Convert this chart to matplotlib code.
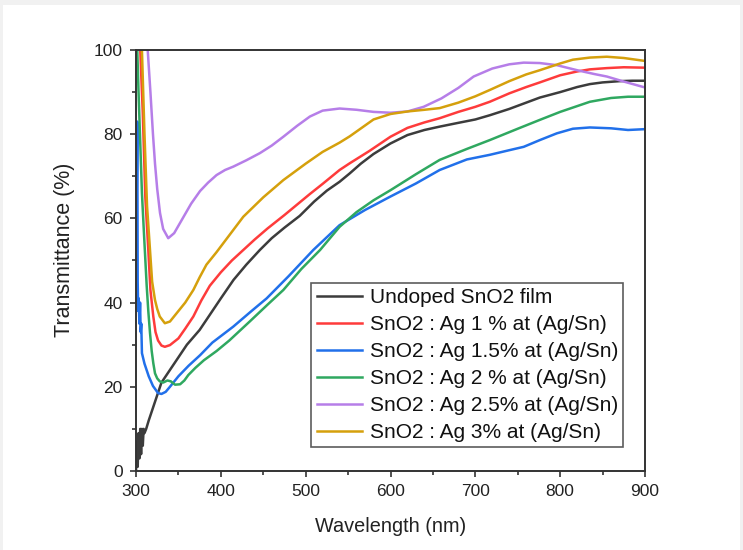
import matplotlib
matplotlib.use("Agg")
import matplotlib.pyplot as plt
from matplotlib.patches import Rectangle
from matplotlib.ticker import MultipleLocator

plt.rcParams['font.family'] = ['Liberation Sans', 'DejaVu Sans']

'''DATA (read off the picture)'''
labels = ["Undoped SnO2 film",
          "SnO2 : Ag 1 % at (Ag/Sn)",
          "SnO2 : Ag 1.5% at (Ag/Sn)",
          "SnO2 : Ag 2 % at (Ag/Sn)",
          "SnO2 : Ag 2.5% at (Ag/Sn)",
          "SnO2 : Ag 3% at (Ag/Sn)"]
colors = ["#3c3c3c", "#fe3b3b", "#2170ea", "#2fa860", "#b67ee8", "#d5a00c"]

wl_undoped = [300, 301, 302, 303, 304, 305, 306, 307, 308, 309, 310, 312, 315, 320, 325, 330,
              340, 350, 360, 375, 390, 400, 415, 430, 446, 460, 475, 493, 510, 525, 540, 552,
              565, 580, 600, 620, 640, 658, 680, 700, 717, 740, 760, 776, 800, 820, 835, 850,
              870, 885, 900]
t_undoped = [0, 7, 1, 9, 3, 10, 4, 10, 6, 10, 9, 10, 12, 15, 18, 21,
             24, 27, 30, 33.5, 38, 41, 45.4, 49, 52.5, 55.3, 57.8, 60.6, 64, 66.6, 68.7, 70.7,
             73, 75.3, 77.8, 79.8, 81, 81.8, 82.7, 83.5, 84.5, 86, 87.5, 88.7, 90, 91.2, 91.9, 92.3,
             92.6, 92.7, 92.7]

wl_ag1 = [305, 308, 311, 314.5, 317, 320.4, 323, 326, 330, 334, 340, 350, 358, 367.6, 377, 387,
          400, 413, 426.5, 440, 455, 475, 490, 505, 520, 540, 552, 575, 600, 620, 640, 658,
          680, 700, 717, 740, 760, 776, 800, 820, 835, 855, 875, 900]
t_ag1 = [100, 85, 65, 52.5, 43, 36.7, 33, 31, 29.8, 29.5, 29.9, 31.5, 33.8, 36.7, 40.5, 44,
         47.2, 50, 52.5, 55, 57.6, 60.8, 63.3, 65.8, 68.2, 71.5, 73.1, 76, 79.4, 81.5, 82.8, 83.8,
         85.3, 86.5, 87.7, 89.7, 91.2, 92.3, 94, 94.9, 95.4, 95.7, 95.9, 95.8]

wl_ag15 = [300, 301, 301.5, 302, 302.6, 303.2, 304, 304.8, 305.5, 306.2, 307, 310, 315, 320,
           326, 330, 335, 340, 350, 362, 375.5, 390, 414.7, 435, 454, 480, 509, 540, 570, 600,
           630, 658, 690, 717, 740, 757, 776, 796, 815, 835, 860, 880, 900]
t_ag15 = [40, 70, 83, 45, 38, 41, 35, 40, 33, 35, 28, 25.5, 22.5, 20.2,
          18.5, 18.3, 18.8, 20, 22.5, 25, 27.5, 30.5, 34.3, 37.8, 41, 46.3, 52.5, 58.4, 62, 65.2,
          68.3, 71.5, 74, 75.1, 76.2, 77, 78.6, 80.2, 81.3, 81.6, 81.4, 81, 81.2]

wl_ag2 = [301.5, 303, 305, 307, 309.5, 312.6, 314.5, 316.5, 318.5, 320.4, 322.4, 325, 328, 332,
          337, 341, 346, 352, 357, 361.7, 370, 380, 395, 410, 434, 455, 473.7, 495, 517, 540,
          560, 580, 600, 630, 658, 690, 717, 750, 776, 800, 835, 860, 880, 900]
t_ag2 = [100, 90, 78, 66, 56, 44, 38, 32.8, 28.5, 25.6, 23.2, 22, 21.3, 21,
         21.5, 21.3, 20.5, 20.6, 21.5, 22.8, 24.5, 26.3, 28.5, 31, 35.5, 39.5, 43, 48, 52.5, 58,
         61.5, 64.3, 66.7, 70.5, 73.9, 76.5, 78.6, 81.3, 83.4, 85.3, 87.7, 88.6, 88.9, 88.9]

wl_ag25 = [313.8, 317, 320, 322.4, 325, 328.3, 332, 338, 345, 355, 365, 375.5, 385, 395, 405,
           414.7, 430, 446, 460, 473.7, 490, 505, 520, 540, 560, 580, 600, 620, 639, 660, 680,
           698, 720, 740, 757, 776, 796, 820, 840, 855, 875, 900]
t_ag25 = [100, 90, 80, 73, 67, 61.3, 57.5, 55.3, 56.5, 60, 63.5, 66.5, 68.5, 70.3, 71.5,
          72.3, 73.8, 75.5, 77.3, 79.4, 82, 84.2, 85.6, 86.1, 85.8, 85.3, 85.1, 85.4, 86.5, 88.5, 91,
          93.7, 95.6, 96.6, 97, 96.9, 96.4, 95.2, 94.3, 93.7, 92.5, 91.1]

wl_ag3 = [307, 310, 313, 316.5, 319, 322.4, 325, 328, 334, 340, 348, 358, 367.6, 375, 383, 395,
          410, 426.5, 450, 473.7, 500, 520, 540, 552, 580, 600, 620, 640, 658, 680, 700, 717,
          740, 760, 776, 800, 815, 835, 855, 875, 900]
t_ag3 = [100, 80, 63, 52.5, 45, 40.6, 38.5, 36.7, 35.1, 35.5, 37.5, 40, 43, 46, 49, 52,
         56, 60.4, 65, 69.1, 73, 75.8, 78, 79.5, 83.5, 84.8, 85.4, 85.8, 86.2, 87.5, 89, 90.5,
         92.6, 94.2, 95.2, 96.8, 97.7, 98.2, 98.4, 98.1, 97.4]

series = [(wl_undoped, t_undoped), (wl_ag1, t_ag1), (wl_ag15, t_ag15),
          (wl_ag2, t_ag2), (wl_ag25, t_ag25), (wl_ag3, t_ag3)]

'''PLOT'''
fig = plt.figure(figsize=(7.43, 5.5), dpi=100, facecolor='#f1f1f1')
fig.patches.append(Rectangle((3/743, 0), 737/743, 545/550, transform=fig.transFigure,
                             facecolor='white', edgecolor='none', zorder=-10))

ax = fig.add_axes([136/743, 79/550, 509/743, 421/550])
ax.set_facecolor('white')

for (wl, t), c, lab in zip(series, colors, labels):
    ax.plot(wl, t, color=c, lw=1.8, label=lab, solid_joinstyle='round')

ax.set_xlim(300, 900)
ax.set_ylim(0, 100)
ax.xaxis.set_major_locator(MultipleLocator(100))
ax.xaxis.set_minor_locator(MultipleLocator(50))
ax.yaxis.set_major_locator(MultipleLocator(20))
ax.yaxis.set_minor_locator(MultipleLocator(10))

for s in ax.spines.values():
    s.set_linewidth(1.4)
    s.set_color('#333333')
ax.tick_params(which='both', direction='out', top=False, right=False,
               width=1.2, color='#333333', labelsize=12.5, labelcolor='#222222')
ax.tick_params(which='major', length=4.5, pad=5)
ax.tick_params(which='minor', length=2.8)

ax.set_xlabel("Wavelength (nm)", fontsize=14.3, color='#222222', labelpad=13)
ax.set_ylabel("Transmittance (%)", fontsize=15.5, color='#222222')
ax.yaxis.set_label_coords(-0.12, 0.525)

leg = ax.legend(loc='lower right', bbox_to_anchor=(0.957, 0.057), borderaxespad=0,
                fontsize=15, frameon=True, fancybox=False, edgecolor='#333333',
                handlelength=2.2, handletextpad=0.34, labelspacing=0.38, borderpad=0.25)
leg.get_frame().set_linewidth(1.2)
for t in leg.get_texts():
    t.set_color('#111111')

fig.savefig("out.png", dpi=100, facecolor=fig.get_facecolor())
